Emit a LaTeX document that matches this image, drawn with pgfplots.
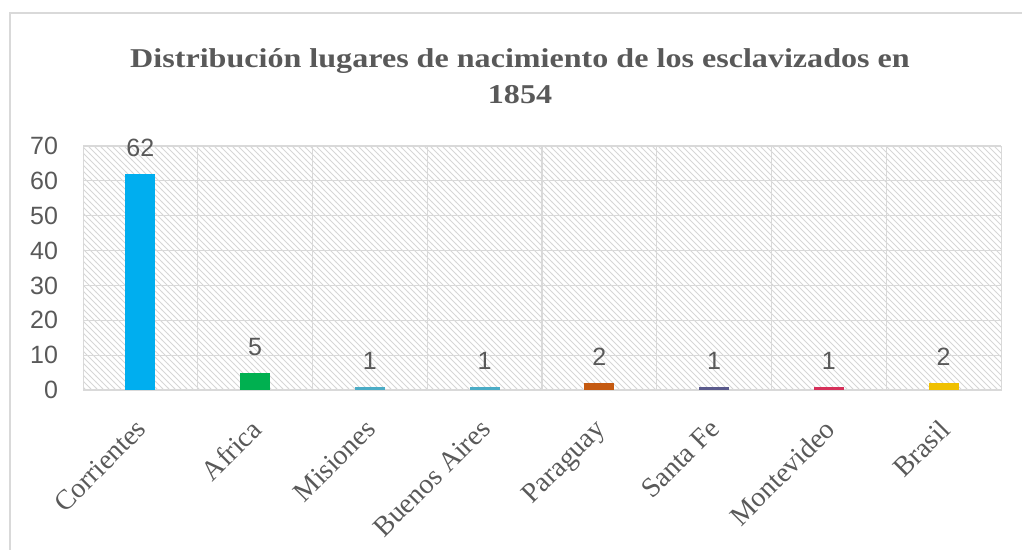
\documentclass[border=0pt]{standalone}
\usepackage{pgfplots}
\pgfplotsset{compat=1.18}
\usepackage{fontspec}
\setmainfont{Liberation Serif}
\newfontfamily\arial{Liberation Sans}
\newfontfamily\titlefont[FakeStretch=1.18]{Liberation Serif}
\usetikzlibrary{patterns}
\definecolor{txt}{HTML}{595959}
\definecolor{gridc}{HTML}{D9D9D9}
\definecolor{c1}{HTML}{00AEEF}
\definecolor{c2}{HTML}{00B050}
\definecolor{c3}{HTML}{4BACC6}
\definecolor{c4}{HTML}{4BACC6}
\definecolor{c5}{HTML}{C55A11}
\definecolor{c6}{HTML}{5A5A8C}
\definecolor{c7}{HTML}{D6305A}
\definecolor{c8}{HTML}{F0C000}
\begin{document}
\begin{tikzpicture}
\path[use as bounding box] (0,0) rectangle (511pt,275pt);
\draw[gridc, line width=0.8pt] (5pt,-2pt) -- (5pt,268.5pt) -- (513pt,268.5pt);
\node[font=\titlefont\bfseries\fontsize{13.6}{18}\selectfont, text=txt, align=center, anchor=north] at (260pt,254pt)
  {Distribución lugares de nacimiento de los esclavizados en\\1854};
\begin{axis}[
  at={(41.5pt,80pt)}, anchor=south west,
  scale only axis, width=459pt, height=122pt,
  xmin=-0.5, xmax=7.5, ymin=0, ymax=70,
  ytick={0,10,...,70},
  xtick={0,...,7},
  xticklabels={Corrientes,Africa,Misiones,Buenos Aires,Paraguay,Santa Fe,Montevideo,Brasil},
  minor xtick={0.5,1.5,...,6.5},
  ymajorgrids, xminorgrids,
  grid style={gridc, line width=0.6pt},
  minor grid style={gridc, line width=0.6pt},
  major tick length=0pt, minor tick length=0pt,
  axis line style={gridc},
  axis background/.style={pattern=north west lines, pattern color=black!16},
  /pgf/number format/assume math mode=true,
  yticklabel style={font=\arial\fontsize{12.5}{14}\selectfont, text=txt, xshift=-9pt},
  xticklabel style={font=\fontsize{14}{16}\selectfont, text=txt, xshift=-2.9pt, yshift=-8.9pt, rotate=45, anchor=north east},
  ybar, bar width=15pt,
  point meta=explicit symbolic,
  nodes near coords,
  every node near coord/.append style={font=\arial\fontsize{12.5}{14}\selectfont, text=txt, yshift=5pt},
]
\addplot+[bar shift=0pt, fill=c1, draw=none] coordinates {(0,62) [62]};
\addplot+[bar shift=0pt, fill=c2, draw=none] coordinates {(1,5) [5]};
\addplot+[bar shift=0pt, fill=c3, draw=none] coordinates {(2,1) [1]};
\addplot+[bar shift=0pt, fill=c4, draw=none] coordinates {(3,1) [1]};
\addplot+[bar shift=0pt, fill=c5, draw=none] coordinates {(4,2) [2]};
\addplot+[bar shift=0pt, fill=c6, draw=none] coordinates {(5,1) [1]};
\addplot+[bar shift=0pt, fill=c7, draw=none] coordinates {(6,1) [1]};
\addplot+[bar shift=0pt, fill=c8, draw=none] coordinates {(7,2) [2]};
\end{axis}
\end{tikzpicture}
\end{document}
